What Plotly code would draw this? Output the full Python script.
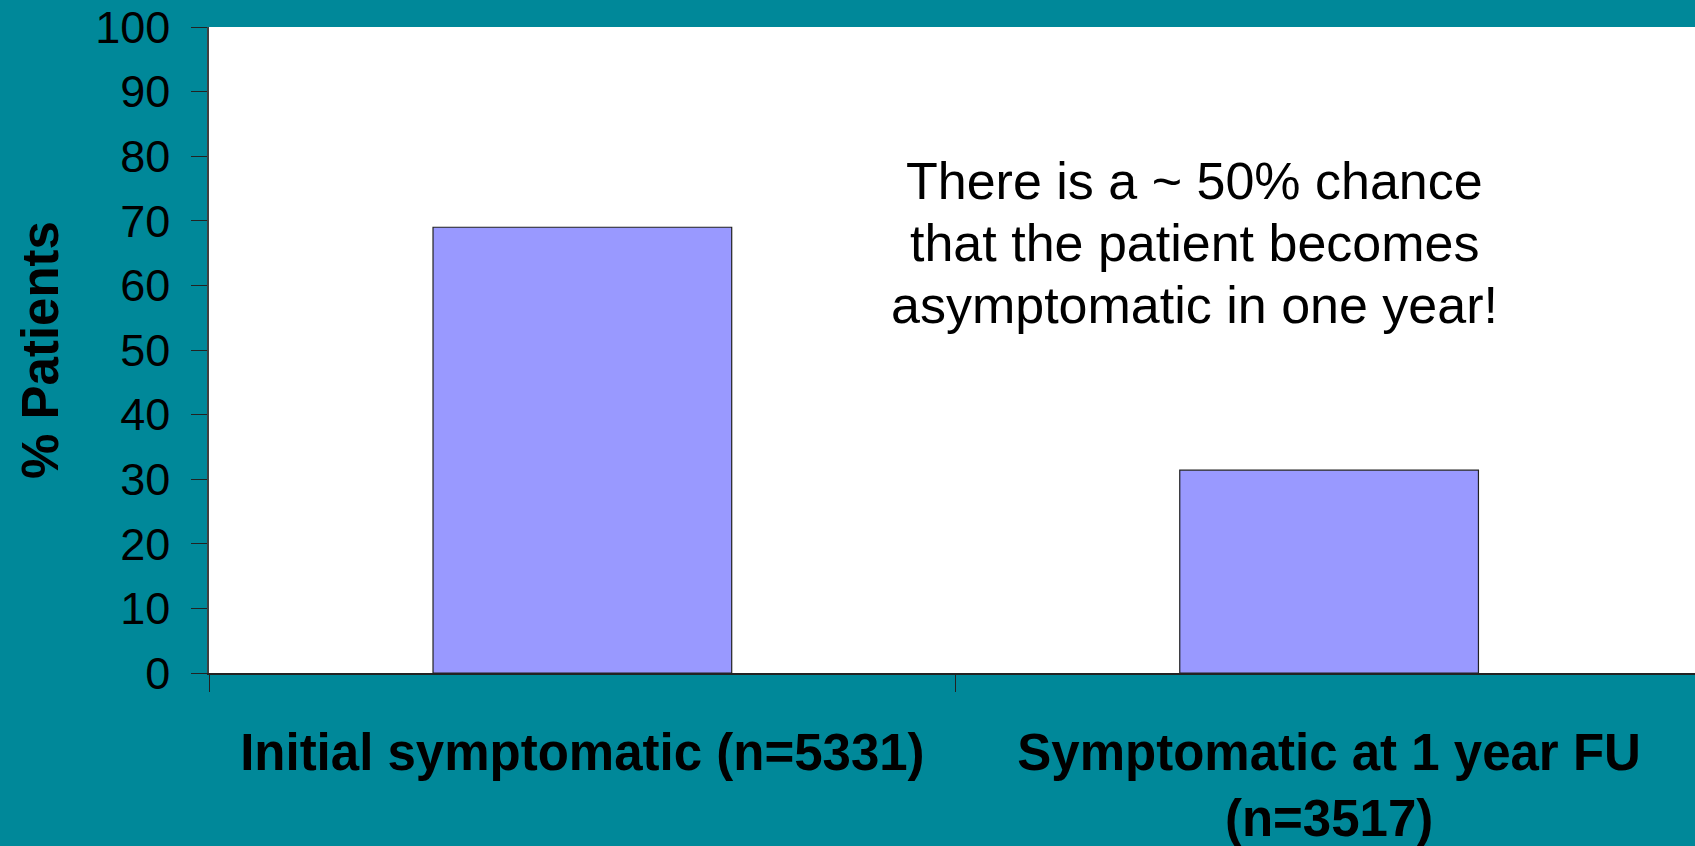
import plotly.graph_objects as go

categories = ["Initial symptomatic (n=5331)", "Symptomatic at 1 year FU<br>(n=3517)"]
values = [69.0, 31.4]
y_ticks = [0, 10, 20, 30, 40, 50, 60, 70, 80, 90, 100]
note_lines = ["There is a ~ 50% chance", "that the patient becomes", "asymptomatic in one year!"]
note_y = [76.2, 66.6, 57.0]

TEAL = "#008899"
FONT = "Liberation Sans, Arial, sans-serif"

fig = go.Figure()
fig.add_trace(go.Bar(
    x=categories, y=values, width=0.4,
    marker=dict(color="#9999FF", line=dict(color="#222222", width=1.2)),
    hoverinfo="skip",
))

for txt, yy in zip(note_lines, note_y):
    fig.add_annotation(
        x=0.6635, xref="paper", y=yy, yref="y", text=txt, showarrow=False,
        xanchor="center", yanchor="middle",
        font=dict(family=FONT, size=52, color="black"),
    )

fig.update_layout(
    width=1695, height=846,
    paper_bgcolor=TEAL, plot_bgcolor="white",
    margin=dict(l=209, r=0, t=27, b=173, autoexpand=False),
    showlegend=False,
    font=dict(family=FONT, color="black"),
)
fig.update_xaxes(
    type="category", range=[-0.5, 1.49], automargin=False,
    showline=True, linecolor="#222222", linewidth=1.5,
    ticks="outside", tickson="boundaries", ticklen=17, tickcolor="#222222", tickwidth=1,
    tickfont=dict(family=FONT, size=51, color="black", weight="bold"),
    ticklabelstandoff=34,
    showgrid=False, zeroline=False,
)
fig.update_yaxes(
    range=[0, 100], tickvals=y_ticks, ticktext=[str(v) for v in y_ticks], automargin=False,
    showline=True, linecolor="#404040", linewidth=1.5,
    ticks="outside", ticklen=16, tickcolor="#222222", tickwidth=1,
    tickfont=dict(family=FONT, size=45, color="black"),
    ticklabelstandoff=12,
    showgrid=False, zeroline=False,
    title=dict(text="% Patients", font=dict(family=FONT, size=51, color="black", weight="bold"), standoff=20),
)

fig.write_html(
    "out.html",
    config={"displayModeBar": False},
    post_script="document.body.style.margin='0';document.documentElement.style.overflow='hidden';document.body.style.overflow='hidden';",
)
